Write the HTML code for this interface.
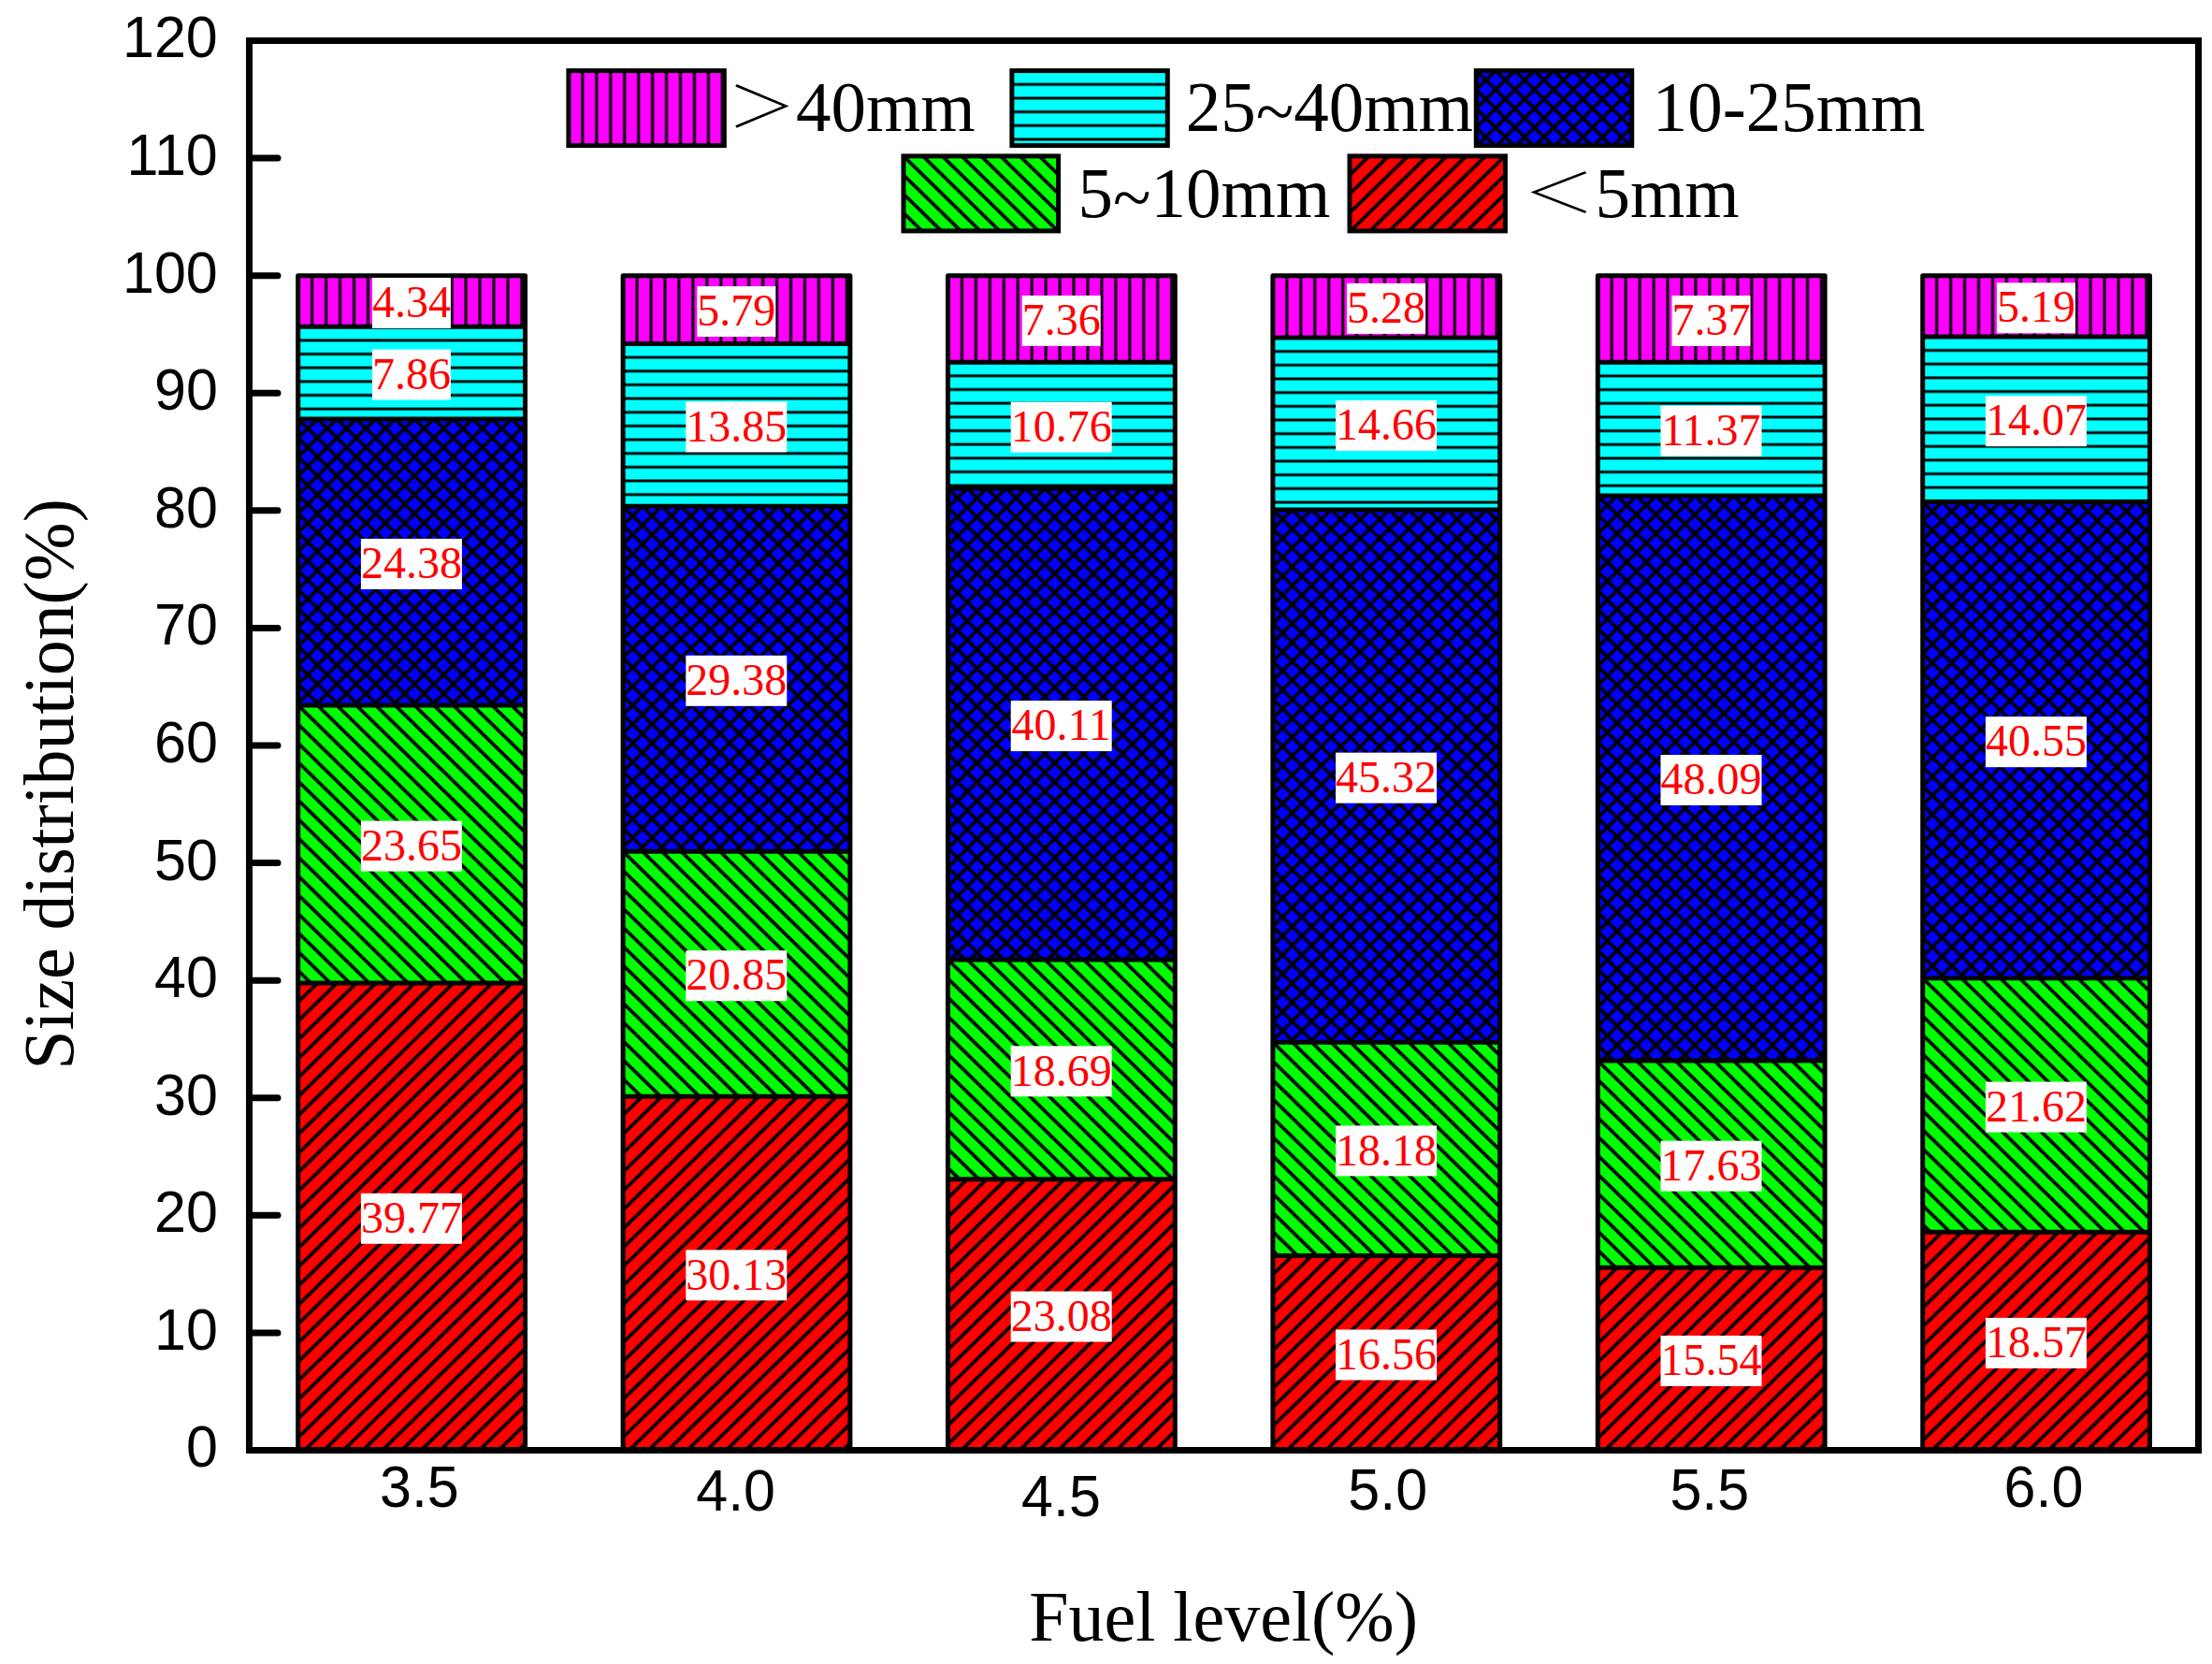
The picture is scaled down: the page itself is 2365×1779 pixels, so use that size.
<!DOCTYPE html>
<html lang="en"><head><meta charset="utf-8"><title>Size distribution vs fuel level</title>
<style>
html,body{margin:0;padding:0;background:#fff;}
body{width:2365px;height:1779px;overflow:hidden;}
svg{display:block;}
.sans{font-family:"Liberation Sans",Arial,sans-serif;font-size:61px;fill:#000;}
.serif{font-family:"Liberation Serif","Noto Serif CJK SC","Times New Roman",serif;font-size:75px;fill:#000;}
.cjk{font-family:"Noto Serif CJK SC","Liberation Serif",serif;font-weight:300;}
.val{font-family:"Liberation Serif","Times New Roman",serif;font-size:48px;fill:#ff0000;text-anchor:middle;}
</style></head><body>
<svg width="2365" height="1779" viewBox="0 0 2365 1779">
<defs>
<pattern id="pr" patternUnits="userSpaceOnUse" width="20.750" height="20.250">
<path d="M-10.375 10.125L10.375 -10.125M-10.375 30.375L31.125 -10.125M10.375 30.375L31.125 10.125" stroke="#000" stroke-width="3.70" stroke-linecap="square"/>
</pattern>
<pattern id="pg" patternUnits="userSpaceOnUse" width="20.750" height="20.250">
<path d="M-10.375 -10.125L31.125 30.375M-10.375 10.125L10.375 30.375M10.375 -10.125L31.125 10.125" stroke="#000" stroke-width="3.70" stroke-linecap="square"/>
</pattern>
<pattern id="pb" patternUnits="userSpaceOnUse" width="20.750" height="20.250">
<path d="M-10.375 10.125L10.375 -10.125M-10.375 30.375L31.125 -10.125M10.375 30.375L31.125 10.125M-10.375 -10.125L31.125 30.375M-10.375 10.125L10.375 30.375M10.375 -10.125L31.125 10.125" stroke="#000" stroke-width="3.70" stroke-linecap="square"/>
</pattern>
<pattern id="pc" patternUnits="userSpaceOnUse" width="40" height="14.670">
<path d="M-1 0H41M-1 14.670H41" stroke="#000" stroke-width="3.10"/>
</pattern>
<pattern id="pm" patternUnits="userSpaceOnUse" width="14.950" height="40">
<path d="M0 -1V41M14.950 -1V41" stroke="#000" stroke-width="3.10"/>
</pattern>
</defs>
<rect width="2365" height="1779" fill="#fff"/>
<defs><pattern id="h1" href="#pr" x="318.70" y="1051.07"/><pattern id="h2" href="#pg" x="318.70" y="754.07"/><pattern id="h3" href="#pb" x="318.70" y="447.91"/><pattern id="h4" href="#pc" x="318.70" y="349.20"/><pattern id="h5" href="#pm" x="318.70" y="294.70"/><pattern id="h6" href="#pr" x="666.10" y="1172.13"/><pattern id="h7" href="#pg" x="666.10" y="910.29"/><pattern id="h8" href="#pb" x="666.10" y="541.34"/><pattern id="h9" href="#pc" x="666.10" y="367.41"/><pattern id="h10" href="#pm" x="666.10" y="294.70"/><pattern id="h11" href="#pr" x="1013.50" y="1260.66"/><pattern id="h12" href="#pg" x="1013.50" y="1025.95"/><pattern id="h13" href="#pb" x="1013.50" y="522.25"/><pattern id="h14" href="#pc" x="1013.50" y="387.13"/><pattern id="h15" href="#pm" x="1013.50" y="294.70"/><pattern id="h16" href="#pr" x="1360.90" y="1342.54"/><pattern id="h17" href="#pg" x="1360.90" y="1114.24"/><pattern id="h18" href="#pb" x="1360.90" y="545.11"/><pattern id="h19" href="#pc" x="1360.90" y="361.01"/><pattern id="h20" href="#pm" x="1360.90" y="294.70"/><pattern id="h21" href="#pr" x="1708.30" y="1355.35"/><pattern id="h22" href="#pg" x="1708.30" y="1133.95"/><pattern id="h23" href="#pb" x="1708.30" y="530.04"/><pattern id="h24" href="#pc" x="1708.30" y="387.25"/><pattern id="h25" href="#pm" x="1708.30" y="294.70"/><pattern id="h26" href="#pr" x="2055.70" y="1317.30"/><pattern id="h27" href="#pg" x="2055.70" y="1045.79"/><pattern id="h28" href="#pb" x="2055.70" y="536.57"/><pattern id="h29" href="#pc" x="2055.70" y="359.88"/><pattern id="h30" href="#pm" x="2055.70" y="294.70"/></defs>
<g id="bars">
<rect x="318.70" y="1051.07" width="242.80" height="499.43" fill="#ff0000"/>
<rect x="318.70" y="1051.07" width="242.80" height="499.43" fill="url(#h1)"/>
<rect x="318.70" y="754.07" width="242.80" height="297.00" fill="#00ff00"/>
<rect x="318.70" y="754.07" width="242.80" height="297.00" fill="url(#h2)"/>
<rect x="318.70" y="447.91" width="242.80" height="306.16" fill="#0000ff"/>
<rect x="318.70" y="447.91" width="242.80" height="306.16" fill="url(#h3)"/>
<rect x="318.70" y="349.20" width="242.80" height="98.71" fill="#00ffff"/>
<rect x="318.70" y="349.20" width="242.80" height="98.71" fill="url(#h4)"/>
<rect x="318.70" y="294.70" width="242.80" height="54.50" fill="#ff00ff"/>
<rect x="318.70" y="294.70" width="242.80" height="54.50" fill="url(#h5)"/>
<rect x="666.10" y="1172.13" width="242.80" height="378.37" fill="#ff0000"/>
<rect x="666.10" y="1172.13" width="242.80" height="378.37" fill="url(#h6)"/>
<rect x="666.10" y="910.29" width="242.80" height="261.83" fill="#00ff00"/>
<rect x="666.10" y="910.29" width="242.80" height="261.83" fill="url(#h7)"/>
<rect x="666.10" y="541.34" width="242.80" height="368.95" fill="#0000ff"/>
<rect x="666.10" y="541.34" width="242.80" height="368.95" fill="url(#h8)"/>
<rect x="666.10" y="367.41" width="242.80" height="173.93" fill="#00ffff"/>
<rect x="666.10" y="367.41" width="242.80" height="173.93" fill="url(#h9)"/>
<rect x="666.10" y="294.70" width="242.80" height="72.71" fill="#ff00ff"/>
<rect x="666.10" y="294.70" width="242.80" height="72.71" fill="url(#h10)"/>
<rect x="1013.50" y="1260.66" width="242.80" height="289.84" fill="#ff0000"/>
<rect x="1013.50" y="1260.66" width="242.80" height="289.84" fill="url(#h11)"/>
<rect x="1013.50" y="1025.95" width="242.80" height="234.71" fill="#00ff00"/>
<rect x="1013.50" y="1025.95" width="242.80" height="234.71" fill="url(#h12)"/>
<rect x="1013.50" y="522.25" width="242.80" height="503.70" fill="#0000ff"/>
<rect x="1013.50" y="522.25" width="242.80" height="503.70" fill="url(#h13)"/>
<rect x="1013.50" y="387.13" width="242.80" height="135.12" fill="#00ffff"/>
<rect x="1013.50" y="387.13" width="242.80" height="135.12" fill="url(#h14)"/>
<rect x="1013.50" y="294.70" width="242.80" height="92.43" fill="#ff00ff"/>
<rect x="1013.50" y="294.70" width="242.80" height="92.43" fill="url(#h15)"/>
<rect x="1360.90" y="1342.54" width="242.80" height="207.96" fill="#ff0000"/>
<rect x="1360.90" y="1342.54" width="242.80" height="207.96" fill="url(#h16)"/>
<rect x="1360.90" y="1114.24" width="242.80" height="228.30" fill="#00ff00"/>
<rect x="1360.90" y="1114.24" width="242.80" height="228.30" fill="url(#h17)"/>
<rect x="1360.90" y="545.11" width="242.80" height="569.13" fill="#0000ff"/>
<rect x="1360.90" y="545.11" width="242.80" height="569.13" fill="url(#h18)"/>
<rect x="1360.90" y="361.01" width="242.80" height="184.10" fill="#00ffff"/>
<rect x="1360.90" y="361.01" width="242.80" height="184.10" fill="url(#h19)"/>
<rect x="1360.90" y="294.70" width="242.80" height="66.31" fill="#ff00ff"/>
<rect x="1360.90" y="294.70" width="242.80" height="66.31" fill="url(#h20)"/>
<rect x="1708.30" y="1355.35" width="242.80" height="195.15" fill="#ff0000"/>
<rect x="1708.30" y="1355.35" width="242.80" height="195.15" fill="url(#h21)"/>
<rect x="1708.30" y="1133.95" width="242.80" height="221.40" fill="#00ff00"/>
<rect x="1708.30" y="1133.95" width="242.80" height="221.40" fill="url(#h22)"/>
<rect x="1708.30" y="530.04" width="242.80" height="603.91" fill="#0000ff"/>
<rect x="1708.30" y="530.04" width="242.80" height="603.91" fill="url(#h23)"/>
<rect x="1708.30" y="387.25" width="242.80" height="142.78" fill="#00ffff"/>
<rect x="1708.30" y="387.25" width="242.80" height="142.78" fill="url(#h24)"/>
<rect x="1708.30" y="294.70" width="242.80" height="92.55" fill="#ff00ff"/>
<rect x="1708.30" y="294.70" width="242.80" height="92.55" fill="url(#h25)"/>
<rect x="2055.70" y="1317.30" width="242.80" height="233.20" fill="#ff0000"/>
<rect x="2055.70" y="1317.30" width="242.80" height="233.20" fill="url(#h26)"/>
<rect x="2055.70" y="1045.79" width="242.80" height="271.50" fill="#00ff00"/>
<rect x="2055.70" y="1045.79" width="242.80" height="271.50" fill="url(#h27)"/>
<rect x="2055.70" y="536.57" width="242.80" height="509.23" fill="#0000ff"/>
<rect x="2055.70" y="536.57" width="242.80" height="509.23" fill="url(#h28)"/>
<rect x="2055.70" y="359.88" width="242.80" height="176.69" fill="#00ffff"/>
<rect x="2055.70" y="359.88" width="242.80" height="176.69" fill="url(#h29)"/>
<rect x="2055.70" y="294.70" width="242.80" height="65.18" fill="#ff00ff"/>
<rect x="2055.70" y="294.70" width="242.80" height="65.18" fill="url(#h30)"/>
</g>
<g id="outlines" fill="none" stroke="#000" stroke-width="5" stroke-linejoin="round">
<path d="M318.70 1051.07H561.50M318.70 754.07H561.50M318.70 447.91H561.50M318.70 349.20H561.50"/>
<rect x="318.70" y="294.70" width="242.80" height="1255.80"/>
<path d="M666.10 1172.13H908.90M666.10 910.29H908.90M666.10 541.34H908.90M666.10 367.41H908.90"/>
<rect x="666.10" y="294.70" width="242.80" height="1255.80"/>
<path d="M1013.50 1260.66H1256.30M1013.50 1025.95H1256.30M1013.50 522.25H1256.30M1013.50 387.13H1256.30"/>
<rect x="1013.50" y="294.70" width="242.80" height="1255.80"/>
<path d="M1360.90 1342.54H1603.70M1360.90 1114.24H1603.70M1360.90 545.11H1603.70M1360.90 361.01H1603.70"/>
<rect x="1360.90" y="294.70" width="242.80" height="1255.80"/>
<path d="M1708.30 1355.35H1951.10M1708.30 1133.95H1951.10M1708.30 530.04H1951.10M1708.30 387.25H1951.10"/>
<rect x="1708.30" y="294.70" width="242.80" height="1255.80"/>
<path d="M2055.70 1317.30H2298.50M2055.70 1045.79H2298.50M2055.70 536.57H2298.50M2055.70 359.88H2298.50"/>
<rect x="2055.70" y="294.70" width="242.80" height="1255.80"/>
</g>
<g id="values">
<rect x="385.90" y="1275.78" width="108.00" height="54" fill="#fff"/>
<text class="val" x="439.90" y="1317.98">39.77</text>
<rect x="385.90" y="877.57" width="108.00" height="54" fill="#fff"/>
<text class="val" x="439.90" y="919.77">23.65</text>
<rect x="385.90" y="575.99" width="108.00" height="54" fill="#fff"/>
<text class="val" x="439.90" y="618.19">24.38</text>
<rect x="397.90" y="373.55" width="84.00" height="54" fill="#fff"/>
<text class="val" x="439.90" y="415.75">7.86</text>
<rect x="397.90" y="296.95" width="84.00" height="54" fill="#fff"/>
<text class="val" x="439.90" y="339.15">4.34</text>
<rect x="733.30" y="1336.31" width="108.00" height="54" fill="#fff"/>
<text class="val" x="787.30" y="1378.51">30.13</text>
<rect x="733.30" y="1016.21" width="108.00" height="54" fill="#fff"/>
<text class="val" x="787.30" y="1058.41">20.85</text>
<rect x="733.30" y="700.82" width="108.00" height="54" fill="#fff"/>
<text class="val" x="787.30" y="743.02">29.38</text>
<rect x="733.30" y="429.37" width="108.00" height="54" fill="#fff"/>
<text class="val" x="787.30" y="471.57">13.85</text>
<rect x="745.30" y="306.06" width="84.00" height="54" fill="#fff"/>
<text class="val" x="787.30" y="348.26">5.79</text>
<rect x="1080.70" y="1380.58" width="108.00" height="54" fill="#fff"/>
<text class="val" x="1134.70" y="1422.78">23.08</text>
<rect x="1080.70" y="1118.31" width="108.00" height="54" fill="#fff"/>
<text class="val" x="1134.70" y="1160.51">18.69</text>
<rect x="1080.70" y="749.10" width="108.00" height="54" fill="#fff"/>
<text class="val" x="1134.70" y="791.30">40.11</text>
<rect x="1080.70" y="429.69" width="108.00" height="54" fill="#fff"/>
<text class="val" x="1134.70" y="471.89">10.76</text>
<rect x="1092.70" y="315.91" width="84.00" height="54" fill="#fff"/>
<text class="val" x="1134.70" y="358.11">7.36</text>
<rect x="1428.10" y="1421.52" width="108.00" height="54" fill="#fff"/>
<text class="val" x="1482.10" y="1463.72">16.56</text>
<rect x="1428.10" y="1203.39" width="108.00" height="54" fill="#fff"/>
<text class="val" x="1482.10" y="1245.59">18.18</text>
<rect x="1428.10" y="804.67" width="108.00" height="54" fill="#fff"/>
<text class="val" x="1482.10" y="846.87">45.32</text>
<rect x="1428.10" y="428.06" width="108.00" height="54" fill="#fff"/>
<text class="val" x="1482.10" y="470.26">14.66</text>
<rect x="1440.10" y="302.85" width="84.00" height="54" fill="#fff"/>
<text class="val" x="1482.10" y="345.05">5.28</text>
<rect x="1775.50" y="1427.92" width="108.00" height="54" fill="#fff"/>
<text class="val" x="1829.50" y="1470.12">15.54</text>
<rect x="1775.50" y="1219.65" width="108.00" height="54" fill="#fff"/>
<text class="val" x="1829.50" y="1261.85">17.63</text>
<rect x="1775.50" y="806.99" width="108.00" height="54" fill="#fff"/>
<text class="val" x="1829.50" y="849.19">48.09</text>
<rect x="1775.50" y="433.64" width="108.00" height="54" fill="#fff"/>
<text class="val" x="1829.50" y="475.84">11.37</text>
<rect x="1787.50" y="315.98" width="84.00" height="54" fill="#fff"/>
<text class="val" x="1829.50" y="358.18">7.37</text>
<rect x="2122.90" y="1408.90" width="108.00" height="54" fill="#fff"/>
<text class="val" x="2176.90" y="1451.10">18.57</text>
<rect x="2122.90" y="1156.55" width="108.00" height="54" fill="#fff"/>
<text class="val" x="2176.90" y="1198.75">21.62</text>
<rect x="2122.90" y="766.18" width="108.00" height="54" fill="#fff"/>
<text class="val" x="2176.90" y="808.38">40.55</text>
<rect x="2122.90" y="423.22" width="108.00" height="54" fill="#fff"/>
<text class="val" x="2176.90" y="465.42">14.07</text>
<rect x="2134.90" y="302.29" width="84.00" height="54" fill="#fff"/>
<text class="val" x="2176.90" y="344.49">5.19</text>
</g>
<g id="axes" stroke="#000" stroke-width="7" fill="none">
<rect x="266.5" y="43.5" width="2084.0" height="1507.0"/>
<path d="M266.5 1424.92H297.0" stroke-linecap="round"/>
<path d="M266.5 1299.34H297.0" stroke-linecap="round"/>
<path d="M266.5 1173.76H297.0" stroke-linecap="round"/>
<path d="M266.5 1048.18H297.0" stroke-linecap="round"/>
<path d="M266.5 922.60H297.0" stroke-linecap="round"/>
<path d="M266.5 797.02H297.0" stroke-linecap="round"/>
<path d="M266.5 671.44H297.0" stroke-linecap="round"/>
<path d="M266.5 545.86H297.0" stroke-linecap="round"/>
<path d="M266.5 420.28H297.0" stroke-linecap="round"/>
<path d="M266.5 294.70H297.0" stroke-linecap="round"/>
<path d="M266.5 169.12H297.0" stroke-linecap="round"/>
</g>
<g id="yticks" class="sans" text-anchor="end">
<text transform="translate(232.8 1568.40) scale(1 1.030)">0</text>
<text transform="translate(232.8 1442.82) scale(1 1.030)">10</text>
<text transform="translate(232.8 1317.24) scale(1 1.030)">20</text>
<text transform="translate(232.8 1191.66) scale(1 1.030)">30</text>
<text transform="translate(232.8 1066.08) scale(1 1.030)">40</text>
<text transform="translate(232.8 940.50) scale(1 1.030)">50</text>
<text transform="translate(232.8 814.92) scale(1 1.030)">60</text>
<text transform="translate(232.8 689.34) scale(1 1.030)">70</text>
<text transform="translate(232.8 563.76) scale(1 1.030)">80</text>
<text transform="translate(232.8 438.18) scale(1 1.030)">90</text>
<text transform="translate(232.8 312.60) scale(1 1.030)">100</text>
<text transform="translate(232.8 187.02) scale(1 1.030)">110</text>
<text transform="translate(232.8 61.44) scale(1 1.030)">120</text>
</g>
<g id="xticks" class="sans" text-anchor="middle">
<text transform="translate(448.4 1610.8) scale(1 1.030)">3.5</text>
<text transform="translate(786.6 1615.2) scale(1 1.030)">4.0</text>
<text transform="translate(1134.5 1620.6) scale(1 1.030)">4.5</text>
<text transform="translate(1483.7 1613.9) scale(1 1.030)">5.0</text>
<text transform="translate(1827.8 1613.7) scale(1 1.030)">5.5</text>
<text transform="translate(2185.0 1611.4) scale(1 1.030)">6.0</text>
</g>
<text class="serif" style="font-size:76px" x="1308.1" y="1753.8" text-anchor="middle">Fuel level(%)</text>
<text class="serif" style="font-size:75.5px" transform="translate(77.5 838.3) rotate(-90)" text-anchor="middle">Size distribution(%)</text>
<g id="legend">
<defs><pattern id="l1" href="#pm" x="607.90" y="75.60"/></defs>
<rect x="607.90" y="75.60" width="166.40" height="80.00" fill="#ff00ff"/>
<rect x="607.90" y="75.60" width="166.40" height="80.00" fill="url(#l1)" stroke="#000" stroke-width="5"/>
<defs><pattern id="l2" href="#pc" x="1081.90" y="75.60"/></defs>
<rect x="1081.90" y="75.60" width="166.40" height="80.00" fill="#00ffff"/>
<rect x="1081.90" y="75.60" width="166.40" height="80.00" fill="url(#l2)" stroke="#000" stroke-width="5"/>
<defs><pattern id="l3" href="#pb" x="1578.30" y="75.60"/></defs>
<rect x="1578.30" y="75.60" width="166.40" height="80.00" fill="#0000ff"/>
<rect x="1578.30" y="75.60" width="166.40" height="80.00" fill="url(#l3)" stroke="#000" stroke-width="5"/>
<defs><pattern id="l4" href="#pg" x="966.00" y="166.90"/></defs>
<rect x="966.00" y="166.90" width="165.60" height="80.00" fill="#00ff00"/>
<rect x="966.00" y="166.90" width="165.60" height="80.00" fill="url(#l4)" stroke="#000" stroke-width="5"/>
<defs><pattern id="l5" href="#pr" x="1443.00" y="166.90"/></defs>
<rect x="1443.00" y="166.90" width="166.40" height="80.00" fill="#ff0000"/>
<rect x="1443.00" y="166.90" width="166.40" height="80.00" fill="url(#l5)" stroke="#000" stroke-width="5"/>
<text class="serif cjk" x="777.2" y="140.2" transform="matrix(1 0 0 .82 0 20.76)">＞</text>
<text class="serif" transform="translate(850.9 139.9) scale(1 1.010)">40mm</text>
<text class="serif" transform="translate(1267.7 139.9) scale(1 1.010)">25<tspan dy="5">~</tspan><tspan dy="-5">40mm</tspan></text>
<text class="serif" transform="translate(1766.8 139.9) scale(1 1.010)">10-25mm</text>
<text class="serif" transform="translate(1152.5 231.9) scale(1 1.010)">5<tspan dy="5">~</tspan><tspan dy="-5">10mm</tspan></text>
<text class="serif cjk" x="1630.9" y="232.2" transform="translate(1667.15 205.45) scale(1.05 .79) translate(-1669.2 -204.65)">＜</text>
<text class="serif" transform="translate(1705.4 231.9) scale(1 1.010)">5mm</text>
</g>
</svg>
</body></html>
